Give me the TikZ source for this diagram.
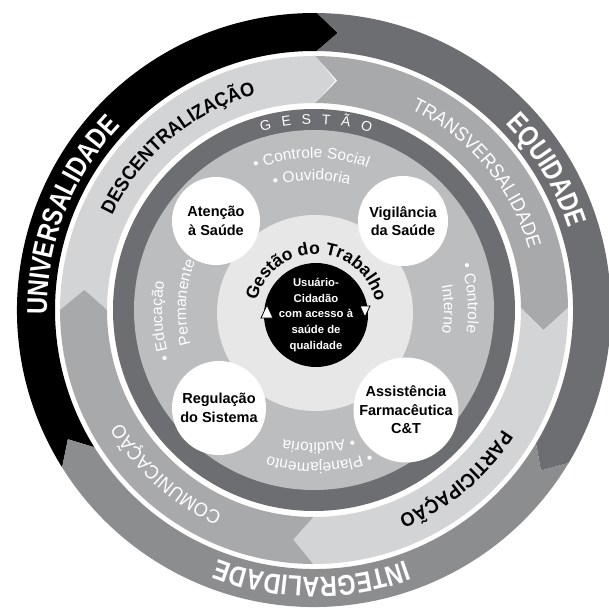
\documentclass[tikz,border=0pt]{standalone}
\usepackage{fontspec}
\setmainfont{Liberation Sans}
\newfontfamily\narrowsans[FakeStretch=0.82]{Liberation Sans}
\newfontfamily\bandsans[FakeStretch=0.93]{Liberation Sans}
\usetikzlibrary{decorations.text}

\definecolor{ringdark}{HTML}{6D6E71}
\definecolor{ringmid}{HTML}{8C8D8F}
\definecolor{bandlight}{HTML}{D3D4D5}
\definecolor{bandmid}{HTML}{A8A9AB}
\definecolor{diskgray}{HTML}{BCBDBF}
\definecolor{disklight}{HTML}{E7E7E8}

% ring segment running clockwise, ending in a chevron tip
\newcommand{\ringarrow}[6]{% colour, from, to, inner r, outer r, tip
  \fill[#1] (#2:#5) arc[start angle=#2, end angle=#3, radius=#5]
    -- ({#3-#6}:{(#4+#5)/2}) -- (#3:#4)
    arc[start angle=#3, end angle=#2, radius=#4]
    -- ({#2-#6}:{(#4+#5)/2}) -- cycle;}

% text set on a clockwise arc (tops outward)
\newcommand{\arclabel}[5][]{% options, from, to, radius, text
  \path[decorate, decoration={text along path, text align=center, #1, text={#5}}]
    (#2:#4) arc[start angle=#2, end angle=#3, radius=#4];}

\newcommand{\bigring}{\narrowsans\bfseries\fontsize{28.5}{28.5}\selectfont}
\newcommand{\midring}{\bandsans\fontsize{19.5}{19.5}\selectfont}
\newcommand{\disktext}{\fontsize{15.5}{15.5}\selectfont}

\begin{document}
\begin{tikzpicture}[x=1pt, y=1pt,
  field/.style={circle, fill=white, inner sep=0pt, align=center,
    font=\bfseries\fontsize{14.5}{18.5}\selectfont},
  hub/.style={circle, fill=black, inner sep=0pt, minimum size=104pt,
    text=white, align=center, font=\bfseries\fontsize{11.3}{15.6}\selectfont},
  turn/.style={fill=white, draw=black, line width=0.8pt, line join=miter}]
\useasboundingbox (-314,-301) rectangle (295,310);
\fill[white] (-314,-301) rectangle (295,310);

% outer ring: principles
\ringarrow{black}{212}{89.4}{259}{297}{4.3}
\ringarrow{ringdark}{89.4}{-31}{259}{297}{4.3}
\ringarrow{ringmid}{-31}{-148}{259}{297}{4.3}
\arclabel[text color=white]{198.7}{118.7}{267}{|\bigring|UNIVERSALIDADE}
\arclabel[text color=white]{71}{-9}{267}{|\bigring|EQUIDADE}
\arclabel[text color=white]{-50.5}{-130.5}{267}{|\bigring|INTEGRALIDADE}

% second ring: guidelines
\ringarrow{bandlight}{180}{89.7}{207}{254}{5}
\ringarrow{bandmid}{89.7}{0.5}{207}{254}{5.5}
\ringarrow{bandlight}{0.5}{-90.2}{207}{254}{5.5}
\ringarrow{bandmid}{-90.2}{-180}{207}{254}{5}
\arclabel[text color=black]{170}{90}{223}{|\midring\bfseries|DESCENTRALIZAÇÃO}
\arclabel[text color=white]{80}{0}{223}{|\midring|TRANSVERSALIDADE}
\arclabel[text color=black]{-10}{-90}{223}{|\midring\bfseries|PARTICIPAÇÃO}
\arclabel[text color=white]{-92}{-172}{223}{|\midring|COMUNICAÇÃO}

% management ring and inner disks
\fill[ringdark] (0,0) circle (201);
\fill[diskgray] (0,0) circle (180);
\fill[disklight] (1,-3) circle (98);
\arclabel[text color=white, text align=fit to path stretching spaces]{106.4}{72.3}{186}{|\fontsize{14}{14}\selectfont|G E S T Ã O}

% support activities
\arclabel[text color=white]{121}{61}{152}{|\disktext|• Controle Social}
\arclabel[text color=white]{121}{61}{130}{|\disktext|• Ouvidoria}
\arclabel[text color=white, text align=left]{17}{-40}{154}{|\disktext|• Controle}
\arclabel[text color=white, text align=left]{11}{-40}{130}{|\disktext|Interno}
\arclabel[text color=white]{-58}{-118}{153}{|\disktext|• Planejamento}
\arclabel[text color=white]{-58}{-118}{133}{|\disktext|• Auditoria}
\arclabel[text color=white, text align=left]{199}{140}{152}{|\disktext|• Educação}
\arclabel[text color=white, text align=left]{195.6}{140}{128}{|\disktext|Permanente}

% care areas
\node[field, minimum size=88pt] (atencao) at (-98,89) {Atenção\\à Saúde};
\node[field, minimum size=90pt] (vigilancia) at (89,89) {Vigilância\\da Saúde};
\node[field, minimum size=94pt] (regulacao) at (-95,-98) {Regulação\\do Sistema};
\node[field, minimum size=96pt] (assistencia) at (92,-100) {Assistência\\Farmacêutica\\C\&T};

% citizen at the centre
\node[hub] (usuario) at (2,-5) {Usuário-\\Cidadão\\com acesso à\\saúde de\\qualidade};
\begin{scope}[shift={(2,-5)}]
  \arclabel[text color=black]{179.5}{-0.5}{61}{|\bfseries\fontsize{17.5}{17.5}\selectfont|Gestão do Trabalho}
\end{scope}
\draw[turn] (-53,-8) -- (-47,5) -- (-41,-8) -- cycle;
\draw[turn] (46,4) -- (51,-7) -- (56,4) -- cycle;

\end{tikzpicture}
\end{document}
